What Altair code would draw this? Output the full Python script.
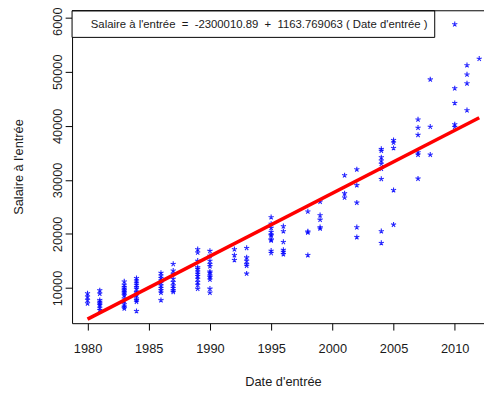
import altair as alt
import pandas as pd

# ---- data ----
date_entree = [
    1980, 1980, 1980, 1980,
    1981, 1981, 1981, 1981, 1981, 1981, 1981, 1981,
    1983, 1983, 1983, 1983, 1983, 1983, 1983, 1983, 1983, 1983, 1983, 1983, 1983,
    1984, 1984, 1984, 1984, 1984, 1984, 1984, 1984, 1984, 1984, 1984, 1984, 1984,
    1986, 1986, 1986, 1986, 1986, 1986, 1986, 1986, 1986, 1986,
    1987, 1987, 1987, 1987, 1987, 1987, 1987, 1987, 1987,
    1989, 1989, 1989, 1989, 1989, 1989, 1989, 1989, 1989, 1989, 1989, 1989,
    1990, 1990, 1990, 1990, 1990, 1990, 1990, 1990, 1990, 1990, 1990, 1990,
    1992, 1992, 1992,
    1993, 1993, 1993, 1993, 1993, 1993,
    1995, 1995, 1995, 1995, 1995, 1995, 1995, 1995, 1995, 1995,
    1996, 1996, 1996, 1996, 1996, 1996,
    1998, 1998, 1998, 1998,
    1999, 1999, 1999, 1999, 1999,
    2001, 2001, 2001,
    2002, 2002, 2002, 2002, 2002,
    2004, 2004, 2004, 2004, 2004, 2004, 2004, 2004, 2004,
    2005, 2005, 2005, 2005, 2005,
    2007, 2007, 2007, 2007, 2007, 2007,
    2008, 2008, 2008,
    2010, 2010, 2010, 2010, 2010,
    2011, 2011, 2011, 2011,
    2012,
]
salaire_entree = [
    9000, 8400, 7800, 7150,
    9560, 8960, 7750, 7450, 7140, 6830, 6350, 5900,
    11200, 10600, 10180, 9870, 9560, 9270, 8960, 8650, 8050, 7560, 6960, 6540, 6230,
    11820, 11390, 10970, 10600, 10180, 9870, 9270, 8960, 8650, 8050, 7740, 7450, 5730,
    12790, 12300, 11820, 11390, 10970, 10470, 10000, 9560, 9140, 7740,
    14430, 13210, 12610, 11700, 11090, 10470, 10000, 9560, 9270,
    17160, 16560, 15030, 13830, 13520, 13030, 12610, 12190, 11700, 11090, 10600, 9870,
    16850, 15940, 15030, 14430, 14010, 13030, 12790, 12300, 12000, 11570, 9870, 9140,
    17160, 16070, 15160,
    17400, 15650, 15030, 14430, 14120, 12660,
    23090, 21870, 21120, 20350, 19900, 19720, 18990, 18800, 16890, 16470,
    21410, 20500, 18500, 17040, 16670, 16250,
    24150, 20450, 20260, 16070,
    25970, 23450, 22630, 21230, 20990,
    30840, 27500, 26730,
    31930, 29010, 25790, 21230, 19410,
    35700, 35390, 34170, 33570, 32970, 32060, 30160, 20500, 18310,
    37340, 36910, 35880, 28100, 21720,
    41170, 39640, 38310, 35080, 34660, 30230,
    48570, 39820, 34660,
    58780, 46930, 44200, 40260, 39770,
    51200, 49490, 47840, 42870,
    52400,
]

intercept = -2300010.89
slope = 1163.769063
line_dates = [1980, 2012]
line_salaires = [intercept + slope * d for d in line_dates]

x_ticks = [1980, 1985, 1990, 1995, 2000, 2005, 2010]
y_ticks = [10000, 20000, 30000, 40000, 50000, 60000]

NB = "\u00a0"
legend_text = ("Salaire à l'entrée" + NB * 2 + "=" + NB * 2 + "-2300010.89" + NB * 2 + "+"
               + NB * 2 + "1163.769063" + NB + "(" + NB + "Date d'entrée" + NB + ")")

pts = pd.DataFrame({"date": date_entree, "salaire": salaire_entree})
ln = pd.DataFrame({"date": line_dates, "salaire": line_salaires})
one = pd.DataFrame({"k": [0]})

W, H = 418, 317
FONT = "Liberation Sans"

xs = alt.Scale(domain=[1978.736, 2012.39], nice=False, zero=False)
ys = alt.Scale(domain=[3493, 61276], nice=False, zero=False)

x_axis = alt.Axis(
    values=x_ticks, format="d", tickSize=7, labelFontSize=13, labelFont=FONT,
    labelColor="#1a1a1a", domainColor="#000", tickColor="#000", grid=False,
    labelPadding=23, labelBaseline="alphabetic", labelFlush=False, labelOverlap=False,
    title="Date d'entrée", titleFont=FONT, titleFontSize=13, titleFontWeight="normal",
    titleColor="#1a1a1a", titleX=214, titleY=63, titleAlign="center",
    titleBaseline="alphabetic",
)
y_axis = alt.Axis(
    values=y_ticks, format="d", tickSize=7, labelFontSize=13, labelFont=FONT,
    labelColor="#1a1a1a", domainColor="#000", tickColor="#000", grid=False,
    labelAngle=270, labelAlign="center", labelBaseline="alphabetic", labelPadding=4,
    labelFlush=False, labelOverlap=False, labelBound=False,
    title="Salaire à l'entrée", titleFont=FONT, titleFontSize=13,
    titleFontWeight="normal", titleColor="#1a1a1a", titleAngle=270,
    titleX=-50, titleY=158, titleAlign="center", titleBaseline="alphabetic",
)

star = "M0,0L0,-1M0,0L0.951,-0.309M0,0L0.588,0.809M0,0L-0.588,0.809M0,0L-0.951,-0.309"

points = alt.Chart(pts).mark_point(
    shape=star, size=30, color="#0000ff", strokeWidth=1.1, filled=False, opacity=0.85
).encode(
    x=alt.X("date:Q", scale=xs, axis=x_axis),
    y=alt.Y("salaire:Q", scale=ys, axis=y_axis),
)

line = alt.Chart(ln).mark_line(color="#ff0000", strokeWidth=3.6).encode(
    x=alt.X("date:Q", scale=xs),
    y=alt.Y("salaire:Q", scale=ys),
)

box = alt.Chart(one).mark_rect(fill="white", stroke="black", strokeWidth=1).encode(
    x=alt.value(0), x2=alt.value(368), y=alt.value(0), y2=alt.value(27)
)
label = alt.Chart(one).mark_text(
    align="left", baseline="middle", font=FONT, fontSize=11.5, color="#1a1a1a"
).encode(x=alt.value(19), y=alt.value(14), text=alt.value(legend_text))

top_rule = alt.Chart(one).mark_rule(color="black", strokeWidth=1).encode(
    x=alt.value(0), x2=alt.value(W), y=alt.value(0)
)

chart = alt.layer(points, line, box, label, top_rule).properties(
    width=W, height=H,
    autosize=alt.AutoSizeParams(type="none"),
    padding={"left": 65, "top": 0, "right": 0, "bottom": 66},
    background="white",
).configure_view(stroke=None)

chart.save("out.html", embed_options={"renderer": "svg", "actions": False})
